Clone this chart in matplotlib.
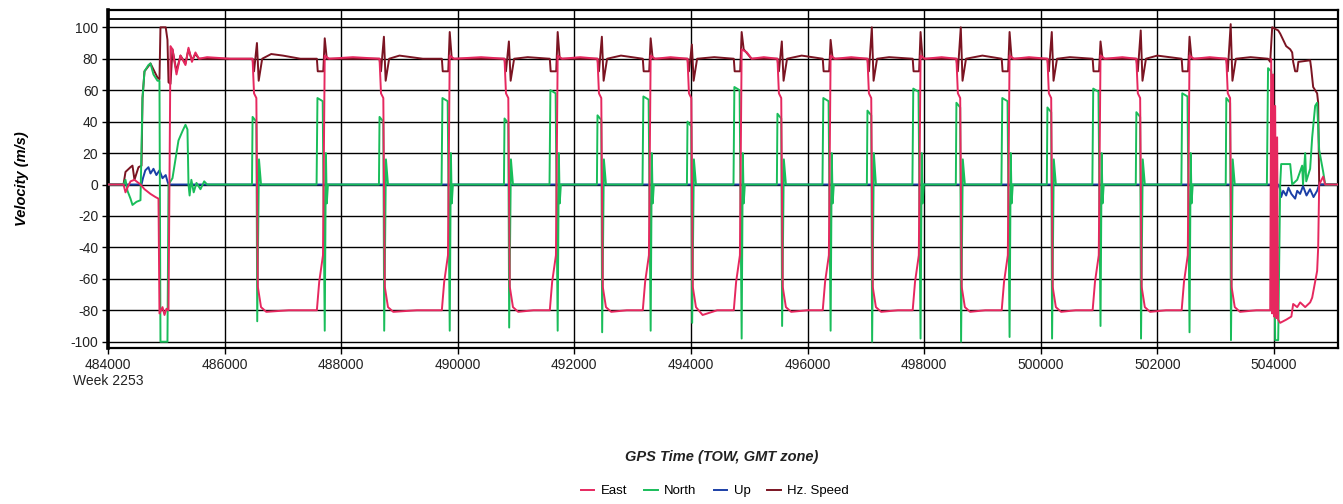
import numpy as np
import matplotlib.pyplot as plt

plt.rcParams['font.family'] = ['Liberation Sans', 'DejaVu Sans']

# GPS time of week (s) / velocity (m/s) breakpoints
east_tow = [
    484000, 484266, 484300, 484334, 484386, 484454, 484557, 484626, 484729, 484815, 484866,
    484883, 484935, 484969, 485003, 485038, 485072, 485106, 485175, 485243, 485329, 485381,
    485440, 485500, 485560, 485700, 486100,
    486480, 486505, 486545, 486570, 486625, 486715, 487100,
    487583, 487623, 487688, 487718, 487793, 488200,
    488658, 488683, 488723, 488748, 488803, 488893, 489300,
    489727, 489767, 489832, 489862, 489937, 490400,
    490802, 490827, 490867, 490892, 490947, 491037, 491300,
    491579, 491619, 491684, 491714, 491789, 492100,
    492397, 492422, 492462, 492487, 492542, 492632, 492900,
    493174, 493214, 493279, 493309, 493384, 493650,
    493941, 493966, 494006, 494031, 494086, 494200, 494450,
    494735, 494775, 494840, 494870, 494960, 495040, 495250,
    495484, 495509, 495549, 495574, 495629, 495719, 496000,
    496261, 496301, 496366, 496396, 496471, 496750,
    497028, 497053, 497093, 497118, 497173, 497263, 497550,
    497804, 497844, 497909, 497939, 498014, 498300,
    498554, 498579, 498619, 498644, 498699, 498789, 499050,
    499331, 499371, 499436, 499466, 499541, 499800,
    500115, 500140, 500180, 500205, 500260, 500350, 500600,
    500891, 500931, 500996, 501026, 501101, 501400,
    501641, 501666, 501706, 501731, 501786, 501876, 502150,
    502418, 502458, 502523, 502553, 502628, 502900,
    503184, 503209, 503249, 503274, 503329, 503419, 503700,
    503937, 503954, 503971, 503988, 504005, 504022, 504040, 504056, 504074, 504108, 504211,
    504300, 504331, 504400, 504451, 504537, 504622, 504657, 504708, 504742, 504760, 504777,
    504846, 504880, 505103,
]
east_vel = [
    0, 0, -5, -2, 2, 3, 0, -3, -6, -8, -9,
    -82, -78, -83, -79, -80, 88, 86, 70, 82, 76, 87,
    78, 84, 80, 81, 80,
    80, 58, 55, -65, -78, -81, -80,
    -80, -62, -45, 82, 80, 81,
    80, 58, 55, -65, -78, -81, -80,
    -80, -62, -45, 82, 80, 81,
    80, 58, 55, -65, -78, -81, -80,
    -80, -62, -45, 82, 80, 81,
    80, 58, 55, -65, -78, -81, -80,
    -80, -62, -45, 82, 80, 81,
    80, 58, 55, -65, -78, -83, -80,
    -80, -62, -45, 86, 84, 80, 81,
    80, 58, 55, -65, -78, -81, -80,
    -80, -62, -45, 82, 80, 81,
    80, 58, 55, -65, -78, -81, -80,
    -80, -62, -45, 82, 80, 81,
    80, 58, 55, -65, -78, -81, -80,
    -80, -62, -45, 82, 80, 81,
    80, 58, 55, -65, -78, -81, -80,
    -80, -62, -45, 82, 80, 81,
    80, 58, 55, -65, -78, -81, -80,
    -80, -62, -45, 82, 80, 81,
    80, 58, 55, -65, -78, -81, -80,
    -80, 80, -82, 70, -84, 50, -85, 30, -86, -88, -86,
    -84, -76, -78, -75, -78, -75, -72, -62, -55, -40, 0,
    5, 0, 0,
]

north_tow = [
    484000, 484266, 484300, 484334, 484386, 484420, 484489, 484557, 484592, 484626, 484694,
    484729, 484780, 484849, 484883, 484900, 485020, 485038, 485106, 485175, 485209, 485278,
    485329, 485363, 485381, 485400, 485430, 485470, 485518, 485586, 485650, 485700,
    486470, 486480, 486545, 486560, 486590, 486625,
    487578, 487593, 487683, 487718, 487738, 487753, 487773,
    488648, 488658, 488723, 488738, 488768, 488803,
    489722, 489737, 489827, 489862, 489882, 489897, 489917,
    490792, 490802, 490867, 490882, 490912, 490947,
    491574, 491589, 491679, 491714, 491734, 491749, 491769,
    492387, 492397, 492462, 492477, 492507, 492542,
    493169, 493184, 493274, 493309, 493329, 493344, 493364,
    493931, 493941, 494006, 494021, 494051, 494086,
    494730, 494745, 494835, 494870, 494890, 494905, 494925,
    495474, 495484, 495549, 495564, 495594, 495629,
    496256, 496271, 496361, 496396, 496416, 496431, 496451,
    497018, 497028, 497093, 497108, 497138, 497173,
    497799, 497814, 497904, 497939, 497959, 497974, 497994,
    498544, 498554, 498619, 498634, 498664, 498699,
    499326, 499341, 499431, 499466, 499486, 499501, 499521,
    500105, 500115, 500180, 500195, 500225, 500260,
    500886, 500901, 500991, 501026, 501046, 501061, 501081,
    501631, 501641, 501706, 501721, 501751, 501786,
    502413, 502428, 502518, 502553, 502573, 502588, 502608,
    503174, 503184, 503249, 503264, 503294, 503329,
    503880, 503900, 503954, 503988, 504022, 504074, 504108, 504125, 504280, 504314, 504400,
    504485, 504500, 504537, 504555, 504622, 504657, 504708, 504742, 504777, 504846, 504880,
    505103,
]
north_vel = [
    0, 0, 3, -4, -9, -13, -11, -10, 55, 72, 76,
    77, 70, 66, 66, -100, -100, 0, 4, 20, 28, 34,
    38, 35, 0, -7, 3, -5, 1, -3, 2, 0,
    0, 43, 40, -87, 16, 0,
    0, 55, 53, -93, 20, -12, 0,
    0, 43, 40, -93, 16, 0,
    0, 55, 53, -93, 20, -12, 0,
    0, 42, 39, -91, 16, 0,
    0, 60, 58, -93, 20, -12, 0,
    0, 44, 41, -94, 16, 0,
    0, 56, 54, -93, 20, -12, 0,
    0, 40, 37, -88, 16, 0,
    0, 62, 60, -98, 20, -12, 0,
    0, 45, 42, -90, 16, 0,
    0, 55, 53, -93, 20, -12, 0,
    0, 47, 44, -100, 20, 0,
    0, 61, 59, -98, 20, -12, 0,
    0, 52, 49, -100, 16, 0,
    0, 55, 53, -97, 20, -12, 0,
    0, 49, 46, -98, 16, 0,
    0, 61, 59, -90, 20, -12, 0,
    0, 46, 43, -98, 16, 0,
    0, 58, 56, -94, 20, -12, 0,
    0, 55, 52, -99, 16, 0,
    0, 74, 72, 50, -99, -99, 0, 13, 13, 0, 3,
    12, 0, 20, 2, 10, 30, 50, 52, 22, 8, 0,
    0,
]

up_tow = [484000, 484575, 484600, 484640, 484694, 484729, 484780, 484830, 484883, 484935,
          484990, 485020, 485038, 504074, 504108, 504125, 504160, 504211, 504250, 504300,
          504365, 504400, 504450, 504500, 504560, 504620, 504680, 504742, 504777, 505103]
up_vel = [0, 0, 4, 9, 11, 7, 10, 6, 9, 4,
          6, 2, 0, 0, -3, -8, -4, -7, -2, -6,
          -9, -4, -6, -1, -7, -3, -8, -4, 0, 0]

hz_tow = [
    484000, 484266, 484300, 484386, 484420, 484454, 484523, 484575, 484592, 484626, 484729,
    484849, 484883, 484900, 484990, 485020, 485038, 485072, 485106, 485175, 485243, 485329,
    485381, 485440, 485500, 485560,
    486480, 486505, 486555, 486585, 486645, 486800, 487000, 487300,
    487583, 487598, 487693, 487718, 487753,
    488658, 488683, 488733, 488763, 488823, 489000, 489400,
    489727, 489742, 489837, 489862, 489897,
    490802, 490827, 490877, 490907, 490967, 491200,
    491579, 491594, 491689, 491714, 491749,
    492397, 492422, 492472, 492502, 492562, 492800,
    493174, 493189, 493284, 493309, 493344,
    493941, 493966, 494016, 494046, 494106, 494400,
    494735, 494750, 494845, 494870, 494905, 495040,
    495484, 495509, 495559, 495589, 495649, 495900,
    496261, 496276, 496371, 496396, 496431,
    497028, 497053, 497103, 497133, 497193, 497400,
    497804, 497819, 497914, 497939, 497974,
    498554, 498579, 498629, 498659, 498719, 499000,
    499331, 499346, 499441, 499466, 499501,
    500115, 500140, 500190, 500220, 500280, 500500,
    500891, 500906, 501001, 501026, 501061,
    501641, 501666, 501716, 501746, 501806, 502000,
    502418, 502433, 502528, 502553, 502588,
    503184, 503209, 503259, 503289, 503349, 503600,
    503900, 503937, 503971, 504074, 504108, 504160, 504211, 504280, 504314, 504331, 504365,
    504400, 504420, 504622, 504640, 504674, 504742, 504760, 504777, 505103,
]
hz_vel = [
    0, 0, 8, 11, 12, 3, 11, 12, 55, 72, 77,
    68, 67, 100, 100, 92, 65, 64, 86, 72, 82, 77,
    86, 79, 83, 80,
    80, 72, 90, 66, 80, 83, 82, 80,
    80, 72, 72, 93, 80,
    80, 72, 94, 66, 80, 82, 80,
    80, 72, 72, 97, 80,
    80, 72, 91, 66, 80, 81,
    80, 72, 72, 97, 80,
    80, 72, 94, 66, 80, 82,
    80, 72, 72, 93, 80,
    80, 72, 89, 66, 80, 81,
    80, 72, 72, 97, 86, 80,
    80, 72, 91, 66, 80, 82,
    80, 72, 72, 92, 80,
    80, 72, 100, 66, 80, 81,
    80, 72, 72, 97, 80,
    80, 72, 100, 66, 80, 82,
    80, 72, 72, 97, 80,
    80, 72, 97, 66, 80, 81,
    80, 72, 72, 91, 80,
    80, 72, 98, 66, 80, 82,
    80, 72, 72, 94, 80,
    80, 72, 102, 66, 80, 81,
    80, 78, 100, 98, 96, 92, 88, 86, 84, 78, 72,
    72, 78, 79, 74, 62, 58, 52, 0, 0,
]

x_ticks = [484000, 486000, 488000, 490000, 492000, 494000, 496000, 498000,
           500000, 502000, 504000]
x_tick_labels = ['484000\nWeek 2253'] + [str(t) for t in x_ticks[1:]]
y_ticks = [-100, -80, -60, -40, -20, 0, 20, 40, 60, 80, 100]

fig = plt.figure(figsize=(13.43, 5.04), dpi=100)
ax = fig.add_axes([108 / 1343, 156 / 504, 1230 / 1343, 338 / 504])

ax.plot(hz_tow, hz_vel, color='#7b1422', lw=1.4, label='Hz. Speed', zorder=3)
ax.plot(up_tow, up_vel, color='#1b3fa6', lw=1.4, label='Up', zorder=4)
ax.plot(north_tow, north_vel, color='#19bd5a', lw=1.4, label='North', zorder=5)
ax.plot(east_tow, east_vel, color='#e6285f', lw=1.4, label='East', zorder=6)

ax.set_xlim(484000, 505100)
ax.set_ylim(-104, 111)
ax.set_xticks(x_ticks)
ax.set_xticklabels(x_tick_labels, fontsize=10, color='#222222')
ax.set_yticks(y_ticks)
ax.set_yticklabels([str(v) for v in y_ticks], fontsize=10, color='#222222')
ax.tick_params(axis='both', direction='out', length=4, width=1, pad=3)
ax.grid(True, color='black', lw=1.0)
ax.set_axisbelow(True)
ax.axhline(105, color='black', lw=1.3, zorder=2)

for side, spine in ax.spines.items():
    spine.set_linewidth(1.6)
ax.spines['left'].set_linewidth(2.6)

ax.set_ylabel('Velocity (m/s)', fontsize=10.5, fontweight='bold', style='italic', labelpad=30)
fig.text(722 / 1343, 1 - 457 / 504, 'GPS Time (TOW, GMT zone)', fontsize=10.5,
         fontweight='bold', style='italic', ha='center', va='center', color='#222222')

handles, labels = ax.get_legend_handles_labels()
order = [3, 2, 1, 0]
fig.legend([handles[i] for i in order], [labels[i] for i in order],
           loc='center', bbox_to_anchor=(715 / 1343, 1 - 491 / 504), ncol=4, frameon=False,
           fontsize=9.5, handlelength=1.0, handletextpad=0.5, columnspacing=1.3)

fig.savefig('out.png', dpi=100)
